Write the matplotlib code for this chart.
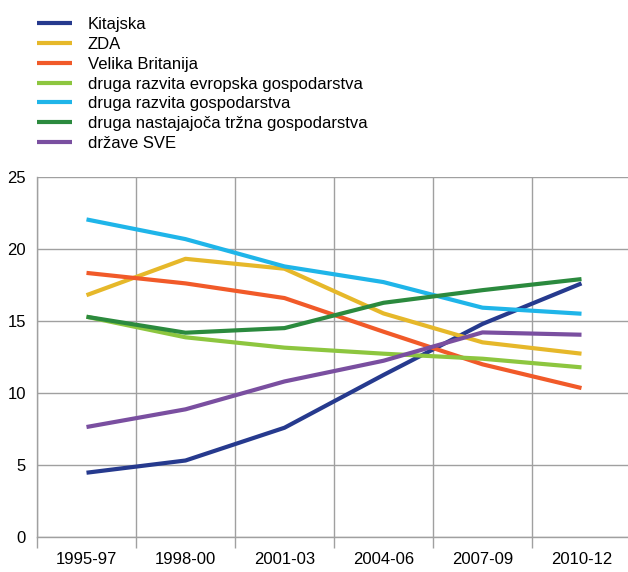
import matplotlib
matplotlib.use("Agg")
import matplotlib.pyplot as plt
from matplotlib.ticker import FixedLocator

plt.rcParams['font.family'] = ['Liberation Sans', 'DejaVu Sans']

categories = ["1995-97", "1998-00", "2001-03", "2004-06", "2007-09", "2010-12"]
kitajska = [4.45, 5.3, 7.58, 11.25, 14.8, 17.62]
zda = [16.8, 19.33, 18.64, 15.53, 13.52, 12.73]
velika_britanija = [18.35, 17.62, 16.6, 14.26, 11.99, 10.34]
druga_evropska = [15.3, 13.87, 13.15, 12.73, 12.38, 11.78]
druga_razvita = [22.07, 20.7, 18.8, 17.71, 15.93, 15.51]
druga_nastajajoca = [15.3, 14.19, 14.51, 16.27, 17.15, 17.92]
drzave_sve = [7.63, 8.86, 10.8, 12.24, 14.21, 14.05]

series = [
    ("Kitajska", kitajska, "#263a8e"),
    ("ZDA", zda, "#e6b82a"),
    ("Velika Britanija", velika_britanija, "#f15a29"),
    ("druga razvita evropska gospodarstva", druga_evropska, "#8dc63f"),
    ("druga razvita gospodarstva", druga_razvita, "#1fb5e9"),
    ("druga nastajajoča tržna gospodarstva", druga_nastajajoca, "#2b8a3e"),
    ("države SVE", drzave_sve, "#7a4fa0"),
]

fig = plt.figure(figsize=(6.28, 5.72), dpi=100)
W, H = 628, 572
left, right, top, bottom = 37, 631, 177.3, 536.7
ax = fig.add_axes([left / W, (H - bottom) / H, (right - left) / W, (bottom - top) / H])

x = list(range(len(categories)))
handles = []
for name, vals, col in series:
    h, = ax.plot(x, vals, color=col, lw=3.0, solid_capstyle='butt', label=name)
    handles.append(h)

ax.set_xlim(-0.5, len(categories) - 0.5)
ax.set_ylim(0, 25)
ax.set_yticks([0, 5, 10, 15, 20, 25])
ax.set_xticks(x)
ax.set_xticklabels(categories)
ax.xaxis.set_minor_locator(FixedLocator([i - 0.5 for i in range(len(categories) + 1)]))

grid_col = "#a0a0a0"
ax.grid(True, axis='y', which='major', color=grid_col, lw=1.0)
ax.grid(True, axis='x', which='minor', color=grid_col, lw=1.0)
ax.set_axisbelow(True)
for s in ['top', 'right']:
    ax.spines[s].set_visible(False)
for s in ['left', 'bottom']:
    ax.spines[s].set_color(grid_col)
    ax.spines[s].set_linewidth(1.0)

ax.tick_params(axis='x', which='major', length=0, pad=11, labelsize=12, colors='black')
ax.tick_params(axis='x', which='minor', length=8, width=1.0, color=grid_col, direction='out')
ax.tick_params(axis='y', which='major', length=0, pad=8, labelsize=12, colors='black')

leg = fig.legend(handles=handles, loc='upper left', bbox_to_anchor=(37 / W, 1 - 17 / H),
                 frameon=False, fontsize=12, handlelength=2.1, handletextpad=0.95,
                 labelspacing=0.29, borderaxespad=0, borderpad=0)

fig.savefig("out.png", dpi=100)
